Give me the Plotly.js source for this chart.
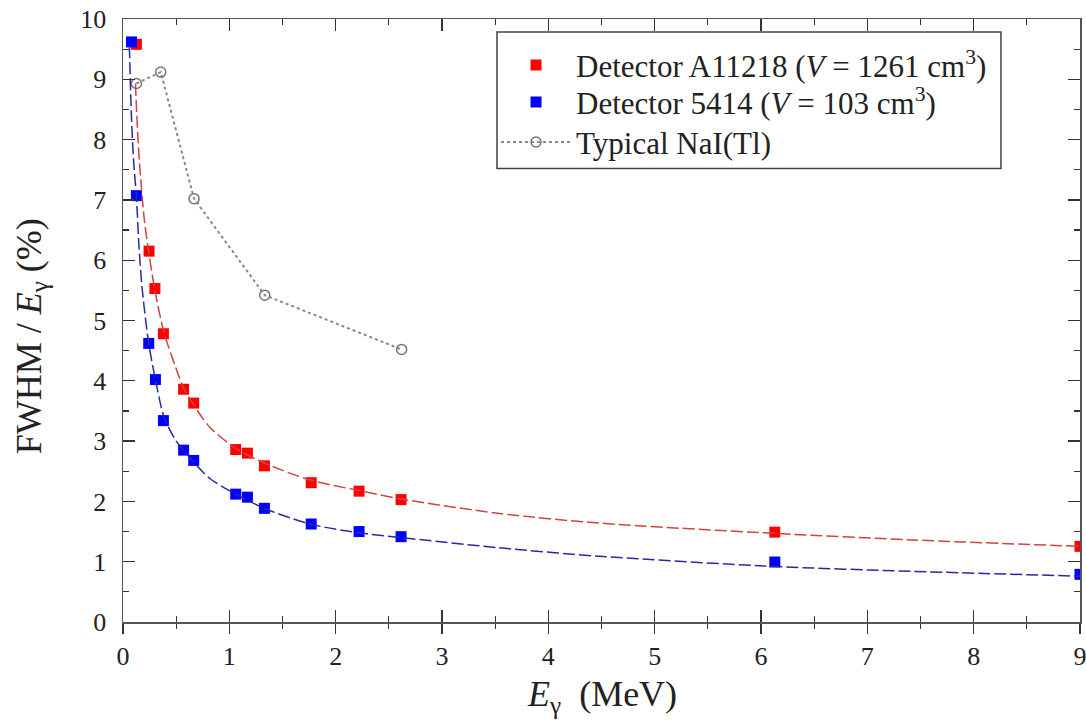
<!DOCTYPE html>
<html>
<head>
<meta charset="utf-8">
<script src="https://cdn.plot.ly/plotly-3.0.1.min.js"></script>
<style>html,body{margin:0;padding:0;background:#fff;}#chart{width:1086px;height:721px;}</style>
</head>
<body>
<div id="chart"></div>
<script>
// Detector A11218 measured points
const redE = [0.126, 0.245, 0.30, 0.38, 0.57, 0.665, 1.06, 1.17, 1.33, 1.77, 2.22, 2.615, 6.13, 9.0];
const redV = [9.58, 6.15, 5.53, 4.78, 3.86, 3.63, 2.86, 2.80, 2.59, 2.31, 2.17, 2.03, 1.49, 1.255];
// Detector 5414 measured points
const blueE = [0.08, 0.126, 0.242, 0.305, 0.38, 0.57, 0.665, 1.06, 1.17, 1.33, 1.77, 2.22, 2.615, 6.13, 9.0];
const blueV = [9.62, 7.07, 4.62, 4.02, 3.34, 2.85, 2.68, 2.12, 2.07, 1.885, 1.625, 1.50, 1.415, 0.995, 0.79];
// Typical NaI(Tl)
const naiE = [0.126, 0.355, 0.668, 1.333, 2.62];
const naiV = [8.93, 9.12, 7.02, 5.42, 4.52];
// Fit curves
const redFitE = [0.117, 0.14, 0.16, 0.2, 0.245, 0.3, 0.386, 0.5, 0.565, 0.665, 0.816, 1.06, 1.35, 1.77, 2.22, 2.615, 3.54, 4.48, 6.13, 7.43, 9.0];
const redFitV = [8.93, 8.04, 7.5, 6.68, 6.1, 5.5, 4.8, 4.2, 3.9, 3.6, 3.23, 2.88, 2.62, 2.35, 2.18, 2.04, 1.80, 1.64, 1.47, 1.36, 1.255];
const blueFitE = [0.06, 0.08, 0.1, 0.126, 0.15, 0.18, 0.242, 0.305, 0.386, 0.5, 0.57, 0.665, 0.816, 1.06, 1.35, 1.77, 2.22, 2.615, 3.54, 4.48, 6.13, 7.43, 9.0];
const blueFitV = [9.55, 8.35, 7.64, 7.05, 6.24, 5.53, 4.62, 4.02, 3.4, 3.0, 2.85, 2.65, 2.38, 2.12, 1.87, 1.62, 1.48, 1.40, 1.23, 1.09, 0.92, 0.84, 0.76];
const xTicks = [0,1,2,3,4,5,6,7,8,9];
const yTicks = [0,1,2,3,4,5,6,7,8,9,10];
const seriesNames = ['Detector A11218 (<i>V</i> = 1261 cm<sup>3</sup>)', 'Detector 5414 (<i>V</i> = 103 cm<sup>3</sup>)', 'Typical NaI(Tl)'];
const xTitle = '<i>E</i><sub>γ</sub>  (MeV)';
const yTitle = 'FWHM / <i>E</i><sub>γ</sub> (%)';

const FONT = 'Liberation Serif, Times New Roman, serif';

const traces = [
  {x: redFitE, y: redFitV, xaxis: 'x2', mode: 'lines', line: {color: '#cc4444', width: 1.5, dash: '12px,4px', shape: 'spline', smoothing: 0.8}, showlegend: false, hoverinfo: 'skip'},
  {x: blueFitE, y: blueFitV, xaxis: 'x2', mode: 'lines', line: {color: '#2a2aa0', width: 1.5, dash: '12px,4px', shape: 'spline', smoothing: 0.8}, showlegend: false, hoverinfo: 'skip'},
  {x: naiE, y: naiV, mode: 'lines+markers', name: seriesNames[2], legend: 'legend3',
   line: {color: '#888888', width: 2, dash: 'dot'},
   marker: {symbol: 'circle-open', size: 10, color: '#777777', line: {width: 1.5, color: '#777777'}}},
  {x: redE, y: redV, mode: 'markers', name: seriesNames[0], legend: 'legend',
   marker: {symbol: 'square', size: 11, color: '#ff0000'}},
  {x: blueE, y: blueV, mode: 'markers', name: seriesNames[1], legend: 'legend2',
   marker: {symbol: 'square', size: 11, color: '#0000ff'}}
];

const TICKC = '#333333';
const LINEC = '#555555';
const tickFont = {family: FONT, size: 26, color: '#222222'};

const legendBase = {
  xanchor: 'left', yanchor: 'middle', bgcolor: 'rgba(0,0,0,0)', borderwidth: 0,
  font: {family: FONT, size: 31, color: '#222222'}, itemwidth: 70
};
const LX = 0.3898;

const layout = {
  width: 1086, height: 721,
  margin: {l: 123, r: 6, t: 19, b: 99},
  paper_bgcolor: '#ffffff', plot_bgcolor: '#ffffff',
  font: {family: FONT, color: '#222222'},
  // bottom axis: labels + outside half of the crossing ticks
  xaxis: {
    range: [0, 9], tickvals: xTicks, ticktext: xTicks.map(String),
    showgrid: false, zeroline: false, showline: true, linecolor: LINEC, linewidth: 1.5, mirror: false,
    ticks: 'outside', ticklen: 10, tickwidth: 1.3, tickcolor: TICKC,
    minor: {dtick: 0.5, tick0: 0, ticks: 'outside', ticklen: 5, tickwidth: 1.3, tickcolor: TICKC},
    tickfont: tickFont, ticklabeloverflow: 'allow'
  },
  // overlay axis: inside ticks at bottom and mirrored at the top
  xaxis2: {
    overlaying: 'x', side: 'bottom', range: [0, 9], tickvals: xTicks, showticklabels: false,
    showgrid: false, zeroline: false, showline: true, linecolor: LINEC, linewidth: 1.5, mirror: 'ticks',
    ticks: 'inside', ticklen: 12, tickwidth: 1.3, tickcolor: TICKC,
    minor: {dtick: 0.5, tick0: 0, ticks: 'inside', ticklen: 6, tickwidth: 1.3, tickcolor: TICKC}
  },
  yaxis: {
    range: [0, 10], tickvals: yTicks, ticktext: yTicks.map(String),
    showgrid: false, zeroline: false, showline: true, linecolor: LINEC, linewidth: 1.5, mirror: 'ticks',
    ticks: 'inside', ticklen: 12, tickwidth: 1.3, tickcolor: TICKC,
    minor: {dtick: 0.5, tick0: 0, ticks: 'inside', ticklen: 6, tickwidth: 1.3, tickcolor: TICKC},
    tickfont: tickFont, ticklabelstandoff: 10
  },
  annotations: [{
    xref: 'paper', yref: 'paper', x: -0.0961, y: 0.4738, xanchor: 'center', yanchor: 'middle',
    textangle: -90, showarrow: false,
    text: yTitle, font: {family: FONT, size: 36, color: '#222222'}
  }, {
    xref: 'paper', yref: 'paper', x: 0.5, y: -0.1232, xanchor: 'center', yanchor: 'middle',
    showarrow: false, text: xTitle, font: {family: FONT, size: 36, color: '#222222'}
  }],
  shapes: [{
    type: 'rect', xref: 'paper', yref: 'paper', x0: 0.3908, x1: 0.9174, y0: 0.7519, y1: 0.9784,
    line: {color: '#444444', width: 1.5}, fillcolor: '#ffffff', layer: 'above'
  }],
  legend: Object.assign({}, legendBase, {x: LX, y: 0.9232}),
  legend2: Object.assign({}, legendBase, {x: LX, y: 0.8619}),
  legend3: Object.assign({}, legendBase, {x: LX, y: 0.7955}),
  showlegend: true
};

Plotly.newPlot('chart', traces, layout, {displayModeBar: false, staticPlot: true});
</script>
</body>
</html>
